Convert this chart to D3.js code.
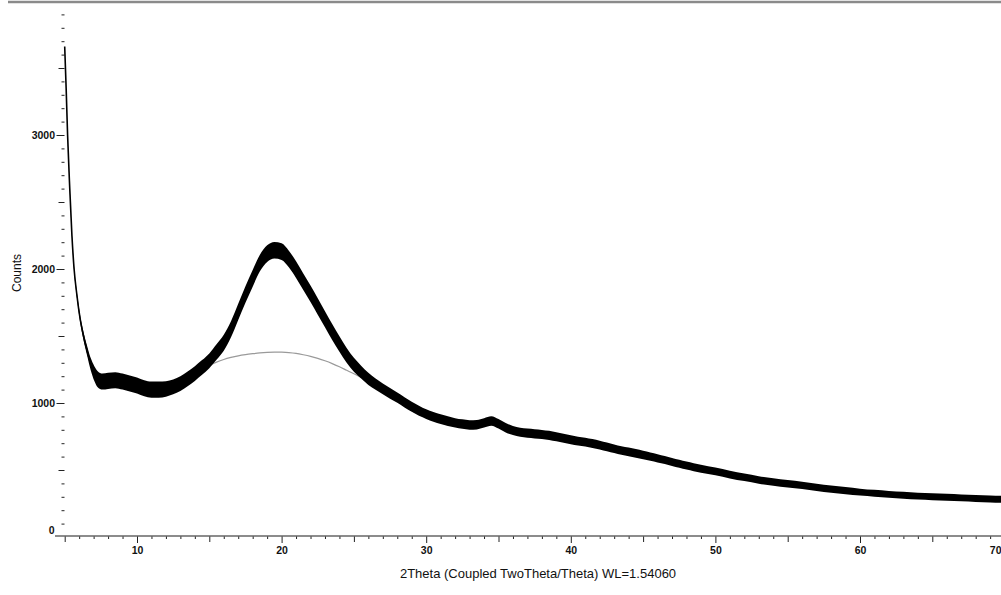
<!DOCTYPE html>
<html>
<head>
<meta charset="utf-8">
<script src="https://cdn.jsdelivr.net/npm/d3@7"></script>
<style>
  body { margin: 0; background: #fff; }
  svg { display: block; font-family: "Liberation Sans", Arial, sans-serif; }
  .axis text { font-size: 10.5px; font-weight: bold; fill: #111; }
  .axis line { stroke: #222; }
</style>
</head>
<body>
<div id="chart"></div>
<script>
const twoTheta = [5.0, 5.1, 5.2, 5.35, 5.5, 5.65, 5.85, 6.05, 6.3, 6.55, 6.8, 7.05, 7.3, 7.6,
    8.0, 8.5, 9.0, 9.5, 10.0, 10.5, 11.0, 11.5, 12.0, 12.5, 13.0, 13.5, 14.0, 14.5,
    15.0, 15.5, 16.0, 16.5, 17.0, 17.5, 18.0, 18.5, 19.0, 19.5, 20.0, 20.5, 21.0, 21.5,
    22.0, 22.5, 23.0, 23.5, 24.0, 24.5, 25.0, 25.5, 26.0, 26.5, 27.0, 27.5, 28.0, 28.5,
    29.0, 29.5, 30.0, 30.5, 31.0, 31.5, 32.0, 32.5, 33.0, 33.5, 34.0, 34.5, 35.0, 35.5,
    36.0, 36.5, 37.0, 37.5, 38.0, 38.5, 39.0, 39.5, 40.0, 40.5, 41.0, 41.5, 42.0, 42.5,
    43.0, 43.5, 44.0, 44.5, 45.0, 45.5, 46.0, 46.5, 47.0, 47.5, 48.0, 48.5, 49.0,
    50, 51, 52, 53, 54, 55, 56, 57, 58, 59, 60, 61, 62, 63, 64, 65, 66, 67, 68, 69, 70];
const counts = [3660, 3350, 3000, 2600, 2250, 2000, 1800, 1640, 1500, 1390, 1290, 1220, 1175, 1160,
    1165, 1170, 1160, 1145, 1130, 1110, 1100, 1100, 1105, 1120, 1145, 1180, 1220, 1265,
    1315, 1380, 1450, 1550, 1680, 1810, 1930, 2045, 2115, 2140, 2130, 2075, 1995, 1905,
    1815, 1720, 1625, 1530, 1440, 1355, 1285, 1230, 1180, 1140, 1105, 1072, 1040, 1005,
    972, 942, 917, 897, 880, 865, 852, 843, 836, 838, 852, 866, 845, 815,
    795, 782, 775, 770, 765, 758, 748, 737, 726, 716, 708, 698, 686, 672,
    658, 645, 635, 624, 612, 600, 587, 574, 560, 546, 533, 521, 510,
    490, 466, 445, 426, 410, 397, 385, 371, 358, 346, 335, 326, 318, 311, 305, 300, 296, 292, 288, 284, 280];
// half height of the noise band
const noise = [0, 0, 5, 8, 10, 15, 20, 25, 30, 35, 45, 55, 60, 60,
    60, 60, 60, 60, 60, 60, 60, 60, 58, 55, 55, 55, 55, 55,
    55, 58, 60, 60, 60, 62, 62, 62, 62, 62, 62, 62, 62, 62,
    62, 62, 60, 60, 58, 55, 52, 48, 45, 42, 40, 40, 38, 38,
    38, 38, 36, 36, 36, 36, 35, 35, 35, 35, 35, 35, 35, 35,
    34, 34, 34, 34, 34, 34, 34, 34, 33, 33, 33, 33, 33, 33,
    32, 32, 32, 32, 31, 31, 31, 30, 30, 30, 30, 30, 30,
    29, 29, 28, 28, 28, 28, 27, 27, 27, 27, 26, 26, 26, 26, 26, 26, 26, 26, 26, 26, 26];

// fitted amorphous hump (grey)
const humpTheta = [14.5, 15.0, 15.5, 16.0, 16.5, 17.0, 17.5, 18.0, 18.5, 19.0, 19.5, 20.0,
    20.5, 21.0, 21.5, 22.0, 22.5, 23.0, 23.5, 24.0, 24.5, 25.0, 25.5];
const humpCounts = [1240, 1280, 1305, 1325, 1340, 1352, 1361, 1368, 1374, 1378, 1380, 1379,
    1376, 1370, 1360, 1348, 1333, 1315, 1294, 1270, 1244, 1218, 1190];

const xTickLabels = [10, 20, 30, 40, 50, 60, 70];
const yTickLabels = [0, 1000, 2000, 3000];

class XrdChart {
    constructor(_config) {
        this.config = {
            parentElement: _config.parentElement,
            containerWidth: 1001,
            containerHeight: 595
        };
        this.initVis();
    }

    initVis() {
        let vis = this;

        vis.xScale = d3.scaleLinear()
            .domain([10, 70])
            .range([137, 1004.6]);

        vis.yScale = d3.scaleLinear()
            .domain([0, 4000])
            .range([537, 1]);

        vis.svg = d3.select(vis.config.parentElement).append('svg')
            .attr('width', vis.config.containerWidth)
            .attr('height', vis.config.containerHeight);

        // frame line on top
        vis.svg.append('line')
            .attr('x1', 8).attr('x2', 1001)
            .attr('y1', 2).attr('y2', 2)
            .attr('stroke', '#8a8a8a')
            .attr('stroke-width', 2.5);

        vis.data = twoTheta.map((t, i) => ({ t: t, c: counts[i], n: noise[i] }));
        vis.hump = humpTheta.map((t, i) => ({ t: t, c: humpCounts[i] }));

        vis.renderVis();
    }

    renderVis() {
        let vis = this;
        const x = vis.xScale, y = vis.yScale;

        // y axis: minor, medium, major ticks (no axis line)
        const yAt = 64.5;
        const yMinor = d3.range(100, 4000, 100).filter(v => v % 500 !== 0);
        const yMid = d3.range(500, 4000, 1000);

        vis.svg.append('g').attr('class', 'axis')
            .attr('transform', `translate(${yAt},0)`)
            .call(d3.axisLeft(y).tickValues(yMinor).tickSize(3).tickFormat(''))
            .call(g => g.select('.domain').remove());
        vis.svg.append('g').attr('class', 'axis')
            .attr('transform', `translate(${yAt},0)`)
            .call(d3.axisLeft(y).tickValues(yMid).tickSize(6).tickFormat(''))
            .call(g => g.select('.domain').remove());
        vis.svg.append('g').attr('class', 'axis')
            .attr('transform', `translate(${yAt},0)`)
            .call(d3.axisLeft(y).tickValues(yTickLabels).tickSize(8).tickPadding(1.5).tickFormat(d3.format('d')))
            .call(g => g.select('.domain').remove())
            .call(g => g.selectAll('.tick').filter(d => d === 0).select('line').remove())
            .call(g => g.selectAll('.tick').filter(d => d === 0).select('text').attr('y', -7).attr('x', -10));

        // x axis
        const xAt = 536;
        const xMinor = d3.range(5, 71, 1).filter(v => v % 5 !== 0);
        const xMid = d3.range(5, 71, 10);

        vis.svg.append('g').attr('class', 'axis')
            .attr('transform', `translate(0,${xAt})`)
            .call(d3.axisBottom(x).tickValues(xMinor).tickSize(3).tickFormat(''))
            .call(g => g.select('.domain').remove());
        vis.svg.append('g').attr('class', 'axis')
            .attr('transform', `translate(0,${xAt})`)
            .call(d3.axisBottom(x).tickValues(xMid).tickSize(6).tickFormat(''))
            .call(g => g.select('.domain').remove());
        vis.svg.append('g').attr('class', 'axis')
            .attr('transform', `translate(0,${xAt})`)
            .call(d3.axisBottom(x).tickValues(xTickLabels).tickSize(7).tickPadding(4))
            .call(g => g.select('.domain').remove())
            // last label sits on the right edge
            .call(g => g.selectAll('.tick').filter(d => d === 70).select('text')
                .attr('text-anchor', 'end').attr('x', 1001 - x(70)));

        vis.svg.append('line')
            .attr('x1', 55).attr('x2', 1001)
            .attr('y1', xAt).attr('y2', xAt)
            .attr('stroke', '#666')
            .attr('stroke-width', 1.5);

        // grey hump
        vis.svg.append('path')
            .datum(vis.hump)
            .attr('fill', 'none')
            .attr('stroke', '#9a9a9a')
            .attr('stroke-width', 1.2)
            .attr('d', d3.line().x(d => x(d.t)).y(d => y(d.c)).curve(d3.curveMonotoneX));

        // noise band + trace
        vis.svg.append('path')
            .datum(vis.data)
            .attr('fill', '#000')
            .attr('d', d3.area()
                .x(d => x(d.t))
                .y0(d => y(d.c - d.n))
                .y1(d => y(d.c + d.n))
                .curve(d3.curveMonotoneX));

        vis.svg.append('path')
            .datum(vis.data)
            .attr('fill', 'none')
            .attr('stroke', '#000')
            .attr('stroke-width', 1.6)
            .attr('d', d3.line().x(d => x(d.t)).y(d => y(d.c)).curve(d3.curveMonotoneX));

        // axis titles
        vis.svg.append('text')
            .attr('x', 538)
            .attr('y', 578)
            .attr('text-anchor', 'middle')
            .attr('font-size', 13)
            .attr('fill', '#111')
            .text('2Theta (Coupled TwoTheta/Theta) WL=1.54060');

        vis.svg.append('text')
            .attr('transform', 'translate(21,273) rotate(-90)')
            .attr('text-anchor', 'middle')
            .attr('font-size', 12)
            .attr('fill', '#111')
            .text('Counts');
    }
}

let xrd = new XrdChart({ parentElement: '#chart' });
</script>
</body>
</html>
